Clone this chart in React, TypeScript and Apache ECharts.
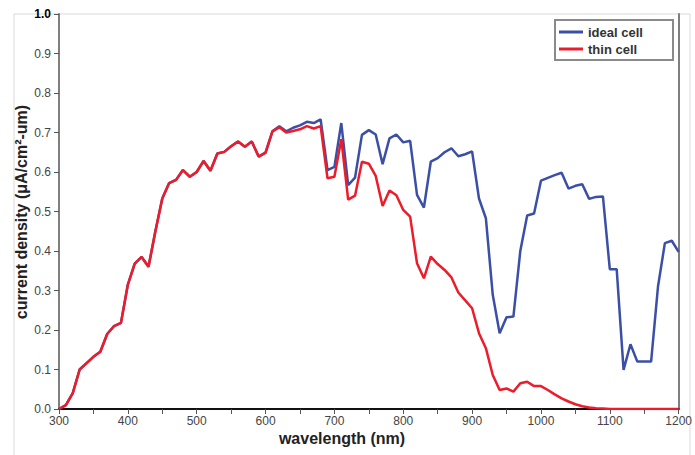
import React, { useEffect, useRef } from "react";
import * as echarts from "echarts";

const wavelengths = [
  300, 310, 320, 330, 340, 350, 360, 370, 380, 390,
  400, 410, 420, 430, 440, 450, 460, 470, 480, 490,
  500, 510, 520, 530, 540, 550, 560, 570, 580, 590,
  600, 610, 620, 630, 640, 650, 660, 670, 680, 690,
  700, 710, 720, 730, 740, 750, 760, 770, 780, 790,
  800, 810, 820, 830, 840, 850, 860, 870, 880, 890,
  900, 910, 920, 930, 940, 950, 960, 970, 980, 990,
  1000, 1010, 1020, 1030, 1040, 1050, 1060, 1070, 1080, 1090,
  1100, 1110, 1120, 1130, 1140, 1150, 1160, 1170, 1180, 1190,
  1200,
];

const idealCell = [
  0.0, 0.01, 0.04, 0.1, 0.116, 0.132, 0.145, 0.19, 0.21, 0.218,
  0.315, 0.368, 0.385, 0.36, 0.45, 0.533, 0.572, 0.58, 0.605, 0.588,
  0.6, 0.628, 0.603, 0.647, 0.651, 0.665, 0.677, 0.664, 0.677, 0.639,
  0.649, 0.703, 0.716, 0.703, 0.712, 0.718, 0.727, 0.724, 0.733, 0.605,
  0.613, 0.724, 0.567, 0.586, 0.694, 0.706, 0.695, 0.62, 0.685, 0.695,
  0.675, 0.679, 0.542, 0.51, 0.626, 0.635, 0.65, 0.66, 0.64, 0.645,
  0.652, 0.533, 0.483, 0.289, 0.192, 0.232, 0.234, 0.4, 0.49, 0.495,
  0.578, 0.585, 0.592, 0.598, 0.558, 0.565, 0.569, 0.532, 0.537, 0.538,
  0.354, 0.354, 0.099, 0.164, 0.12, 0.12, 0.12, 0.31, 0.42, 0.426,
  0.398,
];

const thinCell = [
  0.0, 0.01, 0.04, 0.1, 0.116, 0.132, 0.145, 0.19, 0.21, 0.218,
  0.315, 0.368, 0.385, 0.36, 0.45, 0.533, 0.572, 0.58, 0.605, 0.588,
  0.6, 0.628, 0.603, 0.647, 0.651, 0.665, 0.677, 0.664, 0.677, 0.639,
  0.649, 0.703, 0.713, 0.7, 0.704, 0.708, 0.716, 0.71, 0.716, 0.584,
  0.588, 0.683, 0.53, 0.54, 0.626, 0.621, 0.59, 0.514, 0.553, 0.541,
  0.504, 0.487, 0.369, 0.331, 0.386, 0.367, 0.352, 0.333, 0.295, 0.275,
  0.255, 0.192, 0.154, 0.086, 0.048, 0.052, 0.044, 0.065, 0.069, 0.058,
  0.058, 0.048, 0.037, 0.027, 0.019, 0.012, 0.007, 0.004, 0.002, 0.001,
  0, 0, 0, 0, 0, 0, 0, 0, 0, 0,
  0,
];

const seriesNames = ["ideal cell", "thin cell"];
const xAxisName = "wavelength (nm)";
const yAxisName = "current density (\u03bcA/cm\u00b2-um)";

const FONT = "'Liberation Sans', Arial, sans-serif";
const BLUE = "#3b4fa6";
const RED = "#ec1c2a";

export default function App() {
  const ref = useRef<HTMLDivElement>(null);

  useEffect(() => {
    if (!ref.current) return;
    const chart = echarts.init(ref.current, null, { renderer: "svg" });
    const option = {
      animation: false,
      backgroundColor: "#ffffff",
      textStyle: { fontFamily: FONT },
      grid: { left: 59, right: 16, top: 14, bottom: 46 },
      legend: {
        data: seriesNames,
        orient: "vertical",
        left: 559,
        top: 24,
        padding: 0,
        icon: "rect",
        itemWidth: 24,
        itemHeight: 3,
        itemGap: 1,
        textStyle: { fontFamily: FONT, fontWeight: "bold", fontSize: 13, color: "#333", lineHeight: 16 },
        z: 5,
      },
      xAxis: [
        {
          type: "value",
          min: 300,
          max: 1200,
          interval: 50,
          axisLine: { lineStyle: { color: "#7f7f7f", width: 2 } },
          axisTick: { length: 5, lineStyle: { color: "#555", width: 1 } },
          axisLabel: {
            formatter: (v: number) => (v % 100 === 0 ? String(v) : ""),
            color: "#444",
            fontSize: 12,
            margin: 6,
            fontFamily: FONT,
          },
          splitLine: { show: false },
        },
        {
          type: "value",
          position: "top",
          min: 300,
          max: 1200,
          axisLine: { show: true, lineStyle: { color: "#111", width: 2 } },
          axisTick: { show: false },
          axisLabel: { show: false },
          splitLine: { show: false },
        },
      ],
      yAxis: [
        {
          type: "value",
          min: 0,
          max: 1,
          interval: 0.1,
          axisLine: { show: true, lineStyle: { color: "#7f7f7f", width: 2 } },
          axisTick: { show: true, length: 5, lineStyle: { color: "#555", width: 1 } },
          axisLabel: {
            formatter: (v: number) => (v > 0.999 ? "{b|1.0}" : v.toFixed(1)),
            color: "#444",
            fontSize: 12,
            margin: 8,
            fontFamily: FONT,
            rich: { b: { fontWeight: "bold", color: "#000", fontSize: 12, fontFamily: FONT } },
          },
          splitLine: { show: false },
        },
        {
          type: "value",
          position: "right",
          min: 0,
          max: 1,
          axisLine: { show: true, lineStyle: { color: "#7f7f7f", width: 2 } },
          axisTick: { show: false },
          axisLabel: { show: false },
          splitLine: { show: false },
        },
      ],
      graphic: [
        {
          type: "rect",
          z: -10,
          silent: true,
          shape: { x: 14, y: 14, width: 676, height: 460 },
          style: { fill: "none", stroke: "#d9d9d9", lineWidth: 1 },
        },
        {
          type: "rect",
          z: 1,
          silent: true,
          shape: { x: 555, y: 20, width: 118, height: 40 },
          style: { fill: "#fff", stroke: "#8a8a8a", lineWidth: 2 },
        },
        {
          type: "text",
          x: 342,
          y: 438,
          style: {
            text: xAxisName,
            fontFamily: FONT,
            fontWeight: "bold",
            fontSize: 16,
            fill: "#222",
            align: "center",
            verticalAlign: "middle",
          },
        },
        {
          type: "text",
          x: 21,
          y: 212,
          rotation: Math.PI / 2,
          style: {
            text: yAxisName,
            fontFamily: FONT,
            fontWeight: "bold",
            fontSize: 16,
            fill: "#222",
            align: "center",
            verticalAlign: "middle",
          },
        },
      ],
      series: [
        {
          name: seriesNames[0],
          type: "line",
          symbol: "none",
          lineStyle: { color: BLUE, width: 2.5 },
          itemStyle: { color: BLUE },
          data: wavelengths.map((w, i) => [w, idealCell[i]]),
          z: 2,
        },
        {
          name: seriesNames[1],
          type: "line",
          symbol: "none",
          lineStyle: { color: RED, width: 2.5 },
          itemStyle: { color: RED },
          data: wavelengths.map((w, i) => [w, thinCell[i]]),
          z: 3,
        },
      ],
    };
    chart.setOption(option as any);
    return () => chart.dispose();
  }, []);

  return (
    <div
      ref={ref}
      style={{ position: "absolute", left: 0, top: 0, width: 695, height: 455 }}
    />
  );
}
